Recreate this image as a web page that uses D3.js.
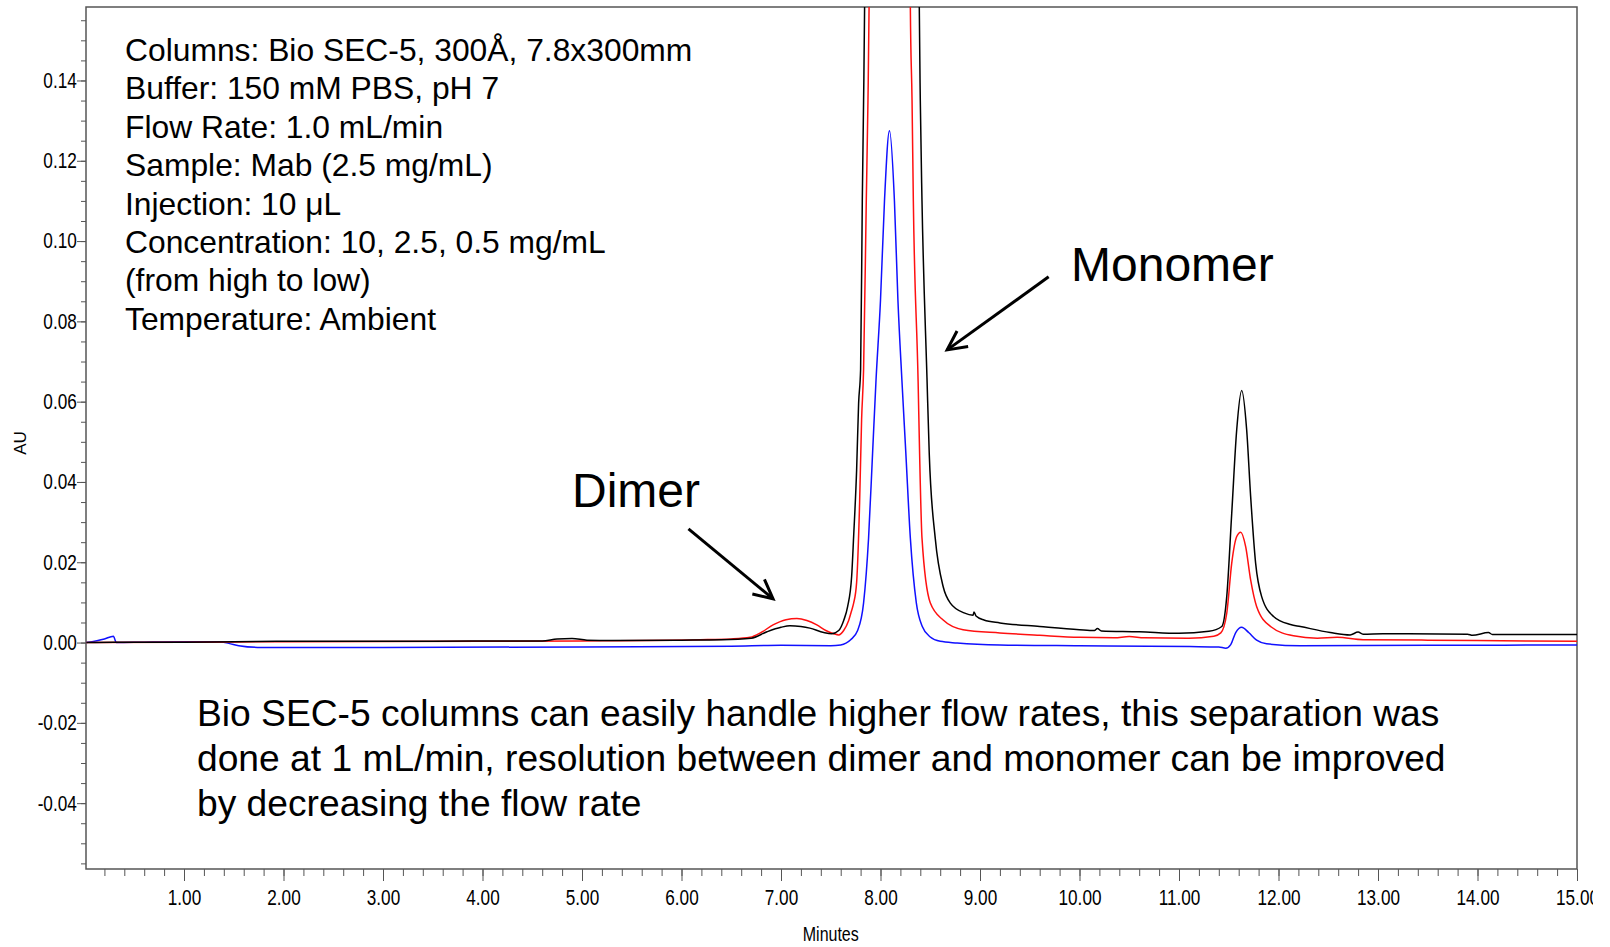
<!DOCTYPE html>
<html>
<head>
<meta charset="utf-8">
<script src="https://cdn.jsdelivr.net/npm/d3@7"></script>
<style>
  body { margin: 0; background: #fff; }
  .tick text, .axtitle { font-family: "Liberation Sans", Arial, sans-serif; }
  .note { font-family: "Liberation Sans", Arial, sans-serif; fill: #000; }
</style>
</head>
<body>
<script>
// chromatogram traces, [minutes, AU]; peaks of black/red go off scale
var black10 = [[0.02,0.0000],[0.3,0.0001],[1.0,0.0001],[1.5,0.0002],[2.0,0.0003],[3.0,0.0003],[4.0,0.0004],[4.6,0.0004],
  [4.75,0.0009],[4.9,0.0010],[5.05,0.0006],[5.3,0.0005],[6.0,0.0006],[6.4,0.0007],[6.7,0.0011],[6.86,0.0027],[7.0,0.0038],
  [7.09,0.0042],[7.2,0.0040],[7.29,0.0036],[7.43,0.0025],[7.51,0.0022],[7.58,0.0030],[7.63,0.0055],[7.67,0.0090],[7.71,0.0165],
  [7.73,0.0264],[7.76,0.043],[7.78,0.0596],[7.80,0.068],[7.817,0.110],[7.83,0.135],[7.84,0.158],[7.87,0.40],[7.95,1.2],
  [8.10,2.4],[8.25,1.2],[8.36,0.40],[8.39,0.158],[8.40,0.135],[8.417,0.110],[8.467,0.066],[8.49,0.047],[8.55,0.026],
  [8.63,0.0139],[8.70,0.0099],[8.84,0.0074],[8.93,0.0068],[8.94,0.0076],[8.96,0.0066],[9.04,0.0056],[9.2,0.0049],[9.6,0.0040],
  [10.0,0.0032],[10.15,0.0030],[10.18,0.0035],[10.22,0.0029],[10.6,0.0027],[11.0,0.0023],[11.3,0.0028],[11.43,0.0040],
  [11.48,0.0115],[11.53,0.0322],[11.58,0.053],[11.63,0.0628],[11.68,0.053],[11.72,0.0364],[11.77,0.0198],[11.83,0.0115],
  [11.95,0.0065],[12.12,0.0045],[12.22,0.0040],[12.52,0.0025],[12.72,0.0019],[12.80,0.0026],[12.85,0.0021],[13.05,0.0022],
  [13.9,0.0021],[13.95,0.0018],[14.11,0.0025],[14.15,0.0020],[15.0,0.0020]];

var red25 = [[0.02,0.0],[1.0,0.0001],[2.0,0.0002],[4.0,0.0003],[5.0,0.0004],[6.19,0.0007],[6.5,0.0009],[6.69,0.0013],
  [6.8,0.0025],[6.92,0.0044],[7.05,0.0057],[7.16,0.0060],[7.26,0.0055],[7.36,0.0044],[7.45,0.0030],[7.53,0.0022],[7.58,0.0019],
  [7.63,0.0030],[7.68,0.0055],[7.71,0.0080],[7.73,0.0098],[7.76,0.0150],[7.79,0.0348],[7.81,0.0555],[7.83,0.068],[7.857,0.110],
  [7.874,0.135],[7.885,0.158],[7.91,0.30],[7.98,0.50],[8.10,0.62],[8.22,0.50],[8.285,0.30],[8.30,0.158],[8.317,0.135],
  [8.33,0.110],[8.378,0.065],[8.393,0.047],[8.417,0.026],[8.50,0.0099],[8.63,0.0056],[8.83,0.0032],[9.2,0.0024],[9.6,0.0018],
  [10.0,0.0013],[10.35,0.0012],[10.5,0.0015],[10.65,0.0012],[11.1,0.0011],[11.35,0.0016],[11.42,0.0024],[11.48,0.0073],
  [11.53,0.0198],[11.58,0.0264],[11.62,0.0275],[11.67,0.0239],[11.72,0.0156],[11.78,0.009],[11.92,0.004],[12.15,0.0017],
  [12.39,0.0011],[12.59,0.0013],[12.85,0.0007],[13.5,0.0006],[14.0,0.0005],[15.0,0.0003]];

var blue05 = [[0.02,0.0],[0.2,0.0009],[0.29,0.0016],[0.32,0.0000],[0.6,0.0001],[1.0,0.0002],[1.35,0.0002],[1.45,-0.0002],
  [1.55,-0.0008],[1.74,-0.0012],[3.0,-0.0012],[5.0,-0.0011],[6.5,-0.0009],[7.0,-0.0007],[7.5,-0.0008],[7.6,-0.0006],
  [7.70,0.0007],[7.77,0.0030],[7.83,0.0099],[7.88,0.026],[7.92,0.047],[7.955,0.0654],[8.0,0.0853],[8.04,0.110],[8.09,0.1275],
  [8.14,0.110],[8.175,0.0853],[8.215,0.0654],[8.255,0.047],[8.30,0.026],[8.36,0.0099],[8.42,0.0040],[8.50,0.0014],[8.6,0.0003],
  [8.77,-0.0001],[9.2,-0.0006],[10.0,-0.0008],[11.11,-0.0010],[11.40,-0.0011],[11.47,-0.0014],[11.52,-0.0005],[11.57,0.0025],
  [11.63,0.0038],[11.70,0.0025],[11.78,0.0006],[11.88,-0.0003],[12.22,-0.0008],[13.5,-0.0007],[15.0,-0.0006]];

var xMajor = d3.range(1, 16);
var yMajor = [-0.04, -0.02, 0.00, 0.02, 0.04, 0.06, 0.08, 0.10, 0.12, 0.14];

var notesTop = ["Columns: Bio SEC-5, 300\u00c5, 7.8x300mm", "Buffer: 150 mM PBS, pH 7", "Flow Rate: 1.0 mL/min",
  "Sample: Mab (2.5 mg/mL)", "Injection: 10 \u03bcL", "Concentration: 10, 2.5, 0.5 mg/mL", "(from high to low)",
  "Temperature: Ambient"];
var notesBottom = ["Bio SEC-5 columns can easily handle higher flow rates, this separation was",
  "done at 1 mL/min, resolution between dimer and monomer can be improved",
  "by decreasing the flow rate"];

var margin = {top: 7, right: 33, bottom: 78, left: 86};
var width = 1610 - margin.left - margin.right;
var height = 947 - margin.top - margin.bottom;

var xScale = d3.scaleLinear().domain([0.015, 15]).range([0, width]);
var yScale = d3.scaleLinear().domain([-0.0564, 0.1583]).range([height, 0]);

var svg = d3.select('body').append('svg')
    .attr('width', 1610)
    .attr('height', 947);

var defs = svg.append('defs');
defs.append('clipPath').attr('id', 'plotclip')
  .append('rect').attr('width', width).attr('height', height);
// the source picture is cropped just after "15.0"
defs.append('clipPath').attr('id', 'xclip')
  .append('rect').attr('x', -60).attr('y', 0).attr('width', width + 16 + 60).attr('height', 80);
defs.append('marker')
    .attr('id', 'vhead')
    .attr('markerUnits', 'userSpaceOnUse')
    .attr('viewBox', '-22 -12 26 24')
    .attr('markerWidth', 26).attr('markerHeight', 24)
    .attr('orient', 'auto')
  .append('path')
    .attr('d', 'M-19,-9.5 L0,0 L-19,9.5')
    .attr('fill', 'none').attr('stroke', '#000').attr('stroke-width', 3);

var g = svg.append('g')
    .attr('transform', 'translate(' + margin.left + ',' + margin.top + ')');

// minor ticks
g.append('g')
    .attr('transform', 'translate(0,' + height + ')')
    .call(d3.axisBottom(xScale).tickValues(d3.range(0.2, 15, 0.2)).tickSize(7).tickFormat(''))
    .call(function(a) { a.select('.domain').remove(); a.selectAll('line').attr('stroke', '#555'); });
g.append('g')
    .call(d3.axisLeft(yScale).tickValues(d3.range(-0.055, 0.156, 0.005)).tickSize(5).tickFormat(''))
    .call(function(a) { a.select('.domain').remove(); a.selectAll('line').attr('stroke', '#555'); });

// major ticks + labels (narrow look: squeeze the glyphs horizontally)
var gx = g.append('g')
    .attr('transform', 'translate(0,' + height + ')')
    .attr('clip-path', 'url(#xclip)')
    .call(d3.axisBottom(xScale).tickValues(xMajor).tickSize(12).tickPadding(8)
      .tickFormat(function(d) { return d.toFixed(2); }));
gx.select('.domain').remove();
gx.selectAll('line').attr('stroke', '#555');
gx.selectAll('text').attr('font-size', '22px').attr('fill', '#000')
    .attr('transform', 'scale(0.78,1)');

var gy = g.append('g')
    .call(d3.axisLeft(yScale).tickValues(yMajor).tickSize(9).tickPadding(2.5)
      .tickFormat(function(d) { return Math.abs(d) < 1e-9 ? '0.00' : d.toFixed(2); }));
gy.select('.domain').remove();
gy.selectAll('line').attr('stroke', '#555');
gy.selectAll('text').attr('font-size', '21.5px').attr('fill', '#000')
    .attr('transform', 'scale(0.8,1)');

// frame
g.append('rect')
    .attr('width', width).attr('height', height)
    .attr('fill', 'none').attr('stroke', '#555').attr('stroke-width', 1.5);

// axis titles
g.append('text')
    .attr('class', 'axtitle')
    .attr('transform', 'translate(' + xScale(7.5) + ',' + (height + 72) + ') scale(0.8,1)')
    .attr('text-anchor', 'middle')
    .attr('font-size', '20px')
    .text('Minutes');
svg.append('text')
    .attr('class', 'axtitle')
    .attr('transform', 'translate(26,443) rotate(-90)')
    .attr('text-anchor', 'middle')
    .attr('font-size', '17px')
    .text('AU');

// traces
var line = d3.line()
    .x(function(d) { return xScale(d[0]); })
    .y(function(d) { return yScale(d[1]); })
    .curve(d3.curveMonotoneX);

var plot = g.append('g').attr('clip-path', 'url(#plotclip)');
[[blue05, '#1010ff'], [red25, '#ff1010'], [black10, '#000']].forEach(function(s) {
  plot.append('path')
      .datum(s[0])
      .attr('fill', 'none')
      .attr('stroke', s[1])
      .attr('stroke-width', 1.5)
      .attr('d', line);
});

// method notes
g.append('text').attr('class', 'note')
    .attr('font-size', '31.8px')
    .selectAll('tspan')
    .data(notesTop)
  .enter().append('tspan')
    .attr('x', 39)
    .attr('y', function(d, i) { return 54 + i * 38.4; })
    .text(function(d) { return d; });

g.append('text').attr('class', 'note')
    .attr('font-size', '37.2px')
    .selectAll('tspan')
    .data(notesBottom)
  .enter().append('tspan')
    .attr('x', 111)
    .attr('y', function(d, i) { return 719 + i * 45; })
    .text(function(d) { return d; });

// peak labels with arrows
g.append('text').attr('class', 'note').attr('font-size', '48px')
    .attr('x', 985).attr('y', 274).text('Monomer');
g.append('text').attr('class', 'note').attr('font-size', '48px')
    .attr('x', 486).attr('y', 500).text('Dimer');

g.append('line')
    .attr('x1', xScale(9.69)).attr('y1', yScale(0.0911))
    .attr('x2', xScale(8.67)).attr('y2', yScale(0.0729))
    .attr('stroke', '#000').attr('stroke-width', 3)
    .attr('marker-end', 'url(#vhead)');
g.append('line')
    .attr('x1', xScale(6.07)).attr('y1', yScale(0.0283))
    .attr('x2', xScale(6.92)).attr('y2', yScale(0.0109))
    .attr('stroke', '#000').attr('stroke-width', 3)
    .attr('marker-end', 'url(#vhead)');
</script>
</body>
</html>
